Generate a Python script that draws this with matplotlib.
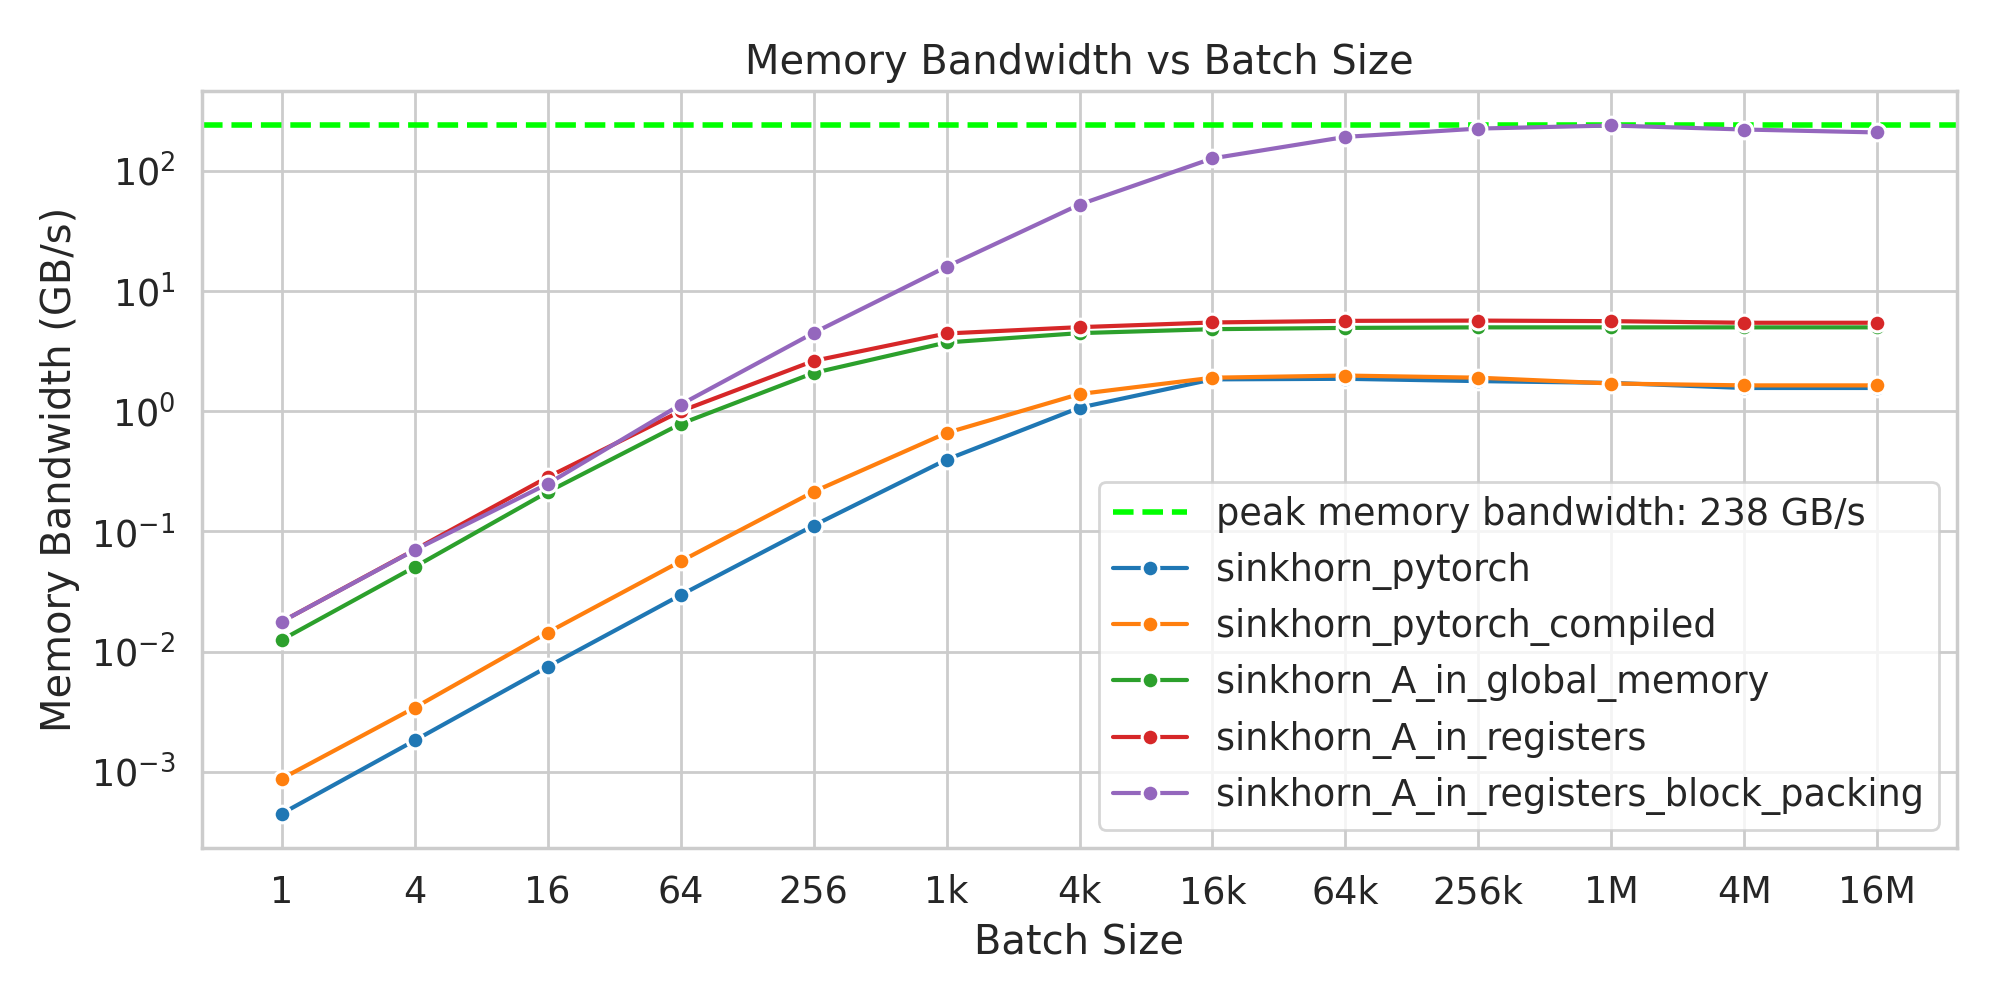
import matplotlib
matplotlib.use("Agg")
import matplotlib.pyplot as plt
import seaborn as sns

batch_sizes = [1, 4, 16, 64, 256, 1024, 4096, 16384, 65536, 262144, 1048576, 4194304, 16777216]
tick_labels = ['1', '4', '16', '64', '256', '1k', '4k', '16k', '64k', '256k', '1M', '4M', '16M']

sinkhorn_pytorch = [0.000451, 0.00183, 0.0075, 0.0296, 0.112, 0.396, 1.07, 1.84, 1.86, 1.78, 1.72, 1.56, 1.56]
sinkhorn_pytorch_compiled = [0.00088, 0.00343, 0.01445, 0.0565, 0.214, 0.66, 1.39, 1.90, 1.98, 1.90, 1.70, 1.64, 1.64]
sinkhorn_A_in_global_memory = [0.01256, 0.0507, 0.213, 0.785, 2.08, 3.73, 4.46, 4.81, 4.93, 4.98, 4.98, 4.98, 4.98]
sinkhorn_A_in_registers = [0.0178, 0.0705, 0.283, 1.0, 2.62, 4.43, 5.0, 5.47, 5.64, 5.67, 5.61, 5.44, 5.44]
sinkhorn_A_in_registers_block_packing = [0.0178, 0.0701, 0.249, 1.135, 4.48, 15.9, 52.3, 126.6, 191, 224, 237.6, 220, 208]

peak_bw = 238

series_names = ['sinkhorn_pytorch', 'sinkhorn_pytorch_compiled', 'sinkhorn_A_in_global_memory',
                'sinkhorn_A_in_registers', 'sinkhorn_A_in_registers_block_packing']
series_values = [sinkhorn_pytorch, sinkhorn_pytorch_compiled, sinkhorn_A_in_global_memory,
                 sinkhorn_A_in_registers, sinkhorn_A_in_registers_block_packing]
colors = ['#1f77b4', '#ff7f0e', '#2ca02c', '#d62728', '#9467bd']

sns.set_theme(style="whitegrid", font_scale=1.2)
plt.rcParams['font.family'] = ['DejaVu Sans']

fig, ax = plt.subplots(figsize=(10, 5), dpi=200)

ax.axhline(peak_bw, color='lime', linestyle='--', linewidth=2,
           label=f'peak memory bandwidth: {peak_bw} GB/s')

for name, vals, c in zip(series_names, series_values, colors):
    ax.plot(batch_sizes, vals, color=c, linewidth=1.5, marker='o', markersize=6,
            markeredgecolor='white', markeredgewidth=1.1, label=name)

ax.set_xscale('log', base=2)
ax.set_yscale('log')
ax.set_xticks(batch_sizes)
ax.set_xticklabels(tick_labels)
ax.minorticks_off()
ax.xaxis.set_minor_locator(matplotlib.ticker.NullLocator())

ax.set_xlabel('Batch Size')
ax.set_ylabel('Memory Bandwidth (GB/s)')
ax.set_title('Memory Bandwidth vs Batch Size')
ax.legend(loc='lower right')

fig.subplots_adjust(left=0.101, right=0.9785, top=0.909, bottom=0.152)
fig.savefig('out.png', dpi=200)
